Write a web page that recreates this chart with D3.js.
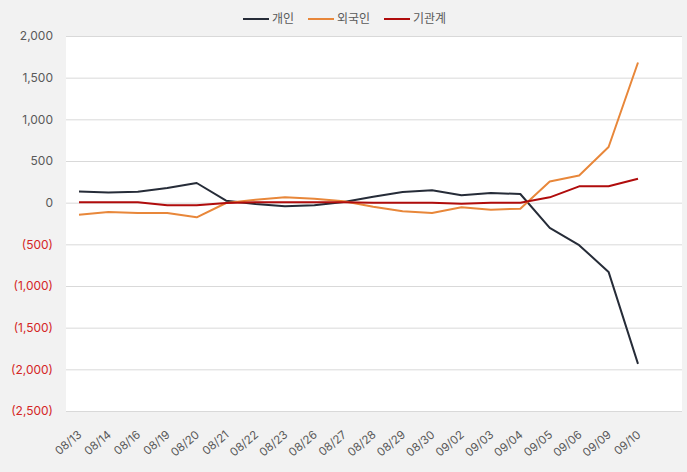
<!DOCTYPE html>
<html><head><meta charset="utf-8">
<script src="https://cdn.jsdelivr.net/npm/d3@7"></script>
<style>html,body{margin:0;padding:0;background:#f2f2f2;}svg{display:block;font-family:Inter,"Noto Sans CJK KR",sans-serif;}</style>
</head><body><svg id="c" width="687" height="472"></svg>
<script>
const categories = ["08/13","08/14","08/16","08/19","08/20","08/21","08/22","08/23","08/26","08/27","08/28","08/29","08/30","09/02","09/03","09/04","09/05","09/06","09/09","09/10"];
const seriesNames = ["개인","외국인","기관계"];
const individual = [135,123,130,176,236,24,-16,-44,-32,8,70,128,148,88,116,104,-303,-510,-831,-1934];
const foreign = [-144,-112,-124,-124,-176,-4,36,64,48,16,-50,-104,-124,-56,-84,-72,255,327,668,1682];
const institution = [4,4,4,-32,-32,-4,4,4,4,4,0,0,0,-12,0,0,64,196,196,288];
const yTicks = [2000,1500,1000,500,0,-500,-1000,-1500,-2000,-2500];
const colors = ["#262c38","#e8873a","#b00c0c"];

const svg = d3.select("#c");
const plot = {l:66, r:682, t:36, b:411};
svg.append("rect").attr("x",plot.l).attr("y",plot.t).attr("width",plot.r-plot.l).attr("height",plot.b-plot.t+1).attr("fill","#fff");

const x = d3.scalePoint().domain(categories).range([79,638]);
const y = d3.scaleLinear().domain([-2500,2000]).range([plot.b,plot.t]);

const fmt = d3.format(",");
const yAxis = svg.append("g").attr("transform",`translate(${plot.l},0)`)
  .call(d3.axisLeft(y).tickValues(yTicks).tickSize(-(plot.r-plot.l)).tickPadding(13)
  .tickFormat(d => d < 0 ? "(" + fmt(-d) + ")" : fmt(d)));
yAxis.select(".domain").remove();
yAxis.selectAll("line").attr("stroke","#d9d9d9");
yAxis.selectAll("text").attr("font-size",12).attr("fill",d => d<0 ? "#d42626" : "#595959").attr("font-family","Inter,sans-serif");

const xAxis = svg.append("g").attr("transform",`translate(0,${plot.b})`)
  .call(d3.axisBottom(x).tickSize(0).tickPadding(0));
xAxis.select(".domain").remove();
xAxis.selectAll("text").attr("font-size",11.5).attr("fill","#595959").attr("font-family","Inter,sans-serif")
  .attr("text-anchor","end").attr("dy",0)
  .attr("transform","translate(3,25) rotate(-40)");

const data = [individual, foreign, institution];
const line = d3.line().x((d,i)=>x(categories[i])).y(d=>y(d));
data.forEach((s,k)=>{
  svg.append("path").datum(s).attr("d",line).attr("fill","none")
    .attr("stroke",colors[k]).attr("stroke-width",2).attr("stroke-linejoin","round");
});

const legX = [243,308,384];
seriesNames.forEach((n,k)=>{
  const g = svg.append("g").attr("transform",`translate(${legX[k]},19)`);
  g.append("line").attr("x1",0).attr("x2",26).attr("stroke",colors[k]).attr("stroke-width",2);
  g.append("text").attr("x",29).attr("dy","0.35em").attr("font-size",12).attr("fill","#595959").text(n);
});
</script></body></html>
